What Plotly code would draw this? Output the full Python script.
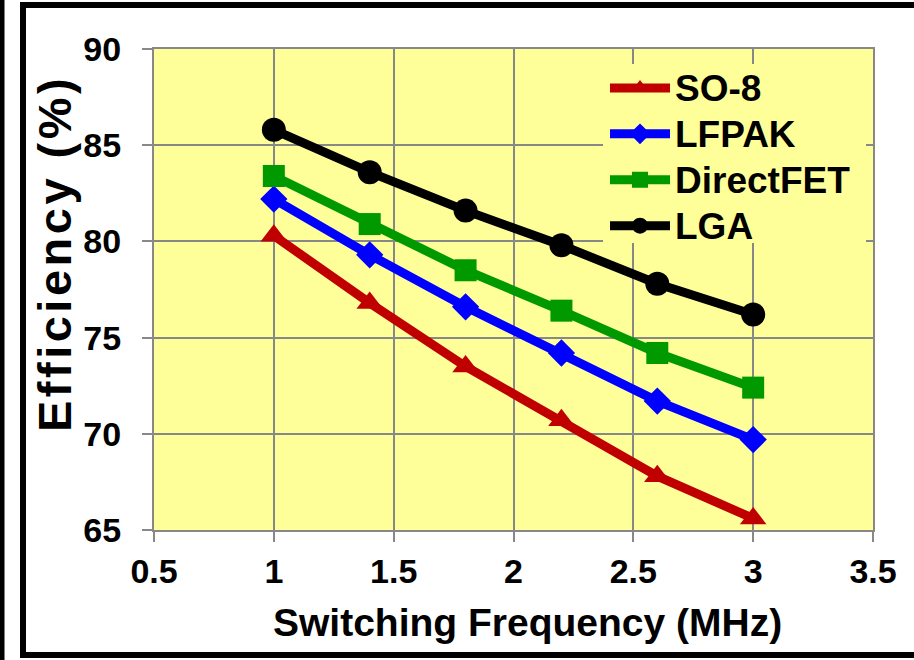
import plotly.graph_objects as go

freq = [1.0, 1.4, 1.8, 2.2, 2.6, 3.0]
so8 = [80.3, 76.8, 73.5, 70.7, 67.8, 65.6]
lfpak = [82.2, 79.3, 76.6, 74.2, 71.7, 69.7]
directfet = [83.4, 80.9, 78.5, 76.4, 74.2, 72.4]
lga = [85.8, 83.6, 81.6, 79.8, 77.8, 76.2]

series_names = ["SO-8", "LFPAK", "DirectFET", "LGA"]

x_ticks = [0.5, 1, 1.5, 2, 2.5, 3, 3.5]
x_tick_text = ["0.5", "1", "1.5", "2", "2.5", "3", "3.5"]
y_ticks = [65, 70, 75, 80, 85, 90]

x_title = "Switching Frequency (MHz)"
y_title = "Efficiency (%)"

FONT = "Liberation Sans, Arial, sans-serif"

styles = [
    ("#C00000", "triangle-up", 23),
    ("#0000FF", "diamond", 21),
    ("#009900", "square", 22),
    ("#000000", "circle", 24),
]

fig = go.Figure()
for name, vals, (color, sym, size) in zip(series_names, [so8, lfpak, directfet, lga], styles):
    fig.add_trace(go.Scatter(
        x=freq, y=vals, name='<span style="font-size:37px">' + name + '</span>',
        mode="lines+markers",
        line=dict(color=color, width=9),
        marker=dict(symbol=sym, size=size, color=color, line=dict(width=0)),
    ))

L, R, T, B = 154, 41, 49, 130
W, H = 914, 660
pw, ph = W - L - R, H - T - B

def px(x):
    return (x - L) / pw

def py(y):
    return (H - B - y) / ph

title_font = dict(family=FONT, size=39, color="black", weight="bold")
ytitle_font = dict(family=FONT, size=47, color="black", weight="bold")
tick_font = dict(family=FONT, size=34, color="black", weight="bold")

fig.update_layout(
    width=W, height=H,
    margin=dict(l=L, r=R, t=T, b=B, autoexpand=False),
    paper_bgcolor="white",
    plot_bgcolor="#FFFF99",
    font=dict(family=FONT, size=34, color="black", weight="bold"),
    showlegend=True,
    legend=dict(
        x=px(605), y=py(60), xanchor="left", yanchor="top",
        bgcolor="rgba(0,0,0,0)", borderwidth=0,
        font=dict(family=FONT, size=33, color="black", weight="bold"),
        tracegroupgap=0, itemwidth=60,
    ),
    xaxis=dict(
        range=[0.5, 3.5], tickvals=x_ticks, ticktext=x_tick_text,
        showgrid=True, gridcolor="#888888", gridwidth=2,
        showline=True, linecolor="#888888", linewidth=2, mirror=True,
        ticks="outside", ticklen=10, tickcolor="#888888", tickwidth=2,
        zeroline=False, tickfont=tick_font,
    ),
    yaxis=dict(
        range=[65, 90], tickvals=y_ticks,
        showgrid=True, gridcolor="#888888", gridwidth=2,
        showline=True, linecolor="#888888", linewidth=2, mirror=True,
        ticks="outside", ticklen=10, tickcolor="#888888", tickwidth=2,
        zeroline=False, tickfont=tick_font, ticklabelstandoff=14,
    ),
    annotations=[
        dict(text=x_title, xref="paper", yref="paper", x=px(527), y=py(622),
             xanchor="center", yanchor="middle", showarrow=False, font=title_font),
        dict(text='<span style="letter-spacing:3.5px">' + y_title + '</span>',
             xref="paper", yref="paper", x=px(55), y=py(254),
             xanchor="center", yanchor="middle", showarrow=False, textangle=-90,
             font=ytitle_font),
    ],
    shapes=[
        dict(type="rect", xref="paper", yref="paper",
             x0=px(603), x1=px(866), y0=py(243), y1=py(64),
             line=dict(width=0), fillcolor="#FFFF99", layer="above"),
        dict(type="rect", xref="paper", yref="paper",
             x0=px(23), x1=px(W + 20), y0=py(655), y1=py(5),
             line=dict(color="black", width=6), fillcolor="rgba(0,0,0,0)", layer="above"),
        dict(type="line", xref="paper", yref="paper",
             x0=px(2), x1=px(2), y0=py(H + 5), y1=py(-5),
             line=dict(color="black", width=5), layer="above"),
    ],
)

fig.write_html("out.html")
